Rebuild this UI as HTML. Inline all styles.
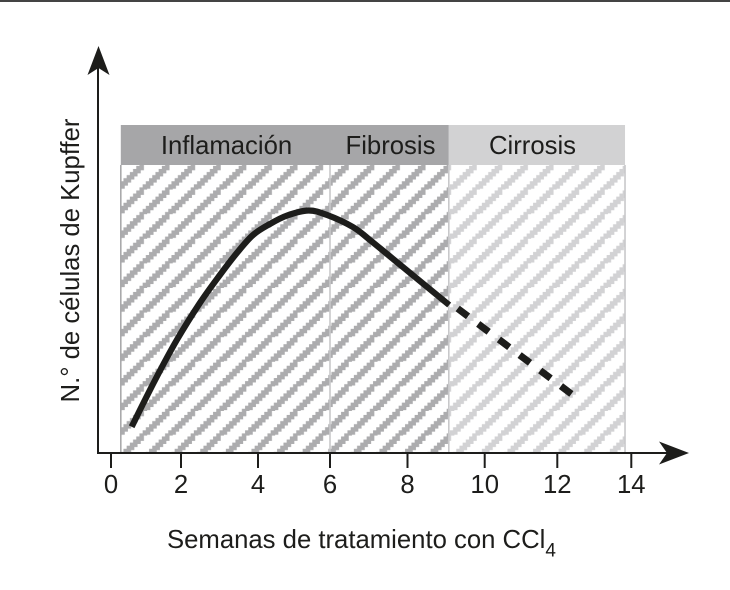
<!DOCTYPE html>
<html lang="es">
<head>
<meta charset="utf-8">
<title>Células de Kupffer</title>
<style>
html,body{margin:0;padding:0;background:#fff;width:730px;height:590px;overflow:hidden}
svg{display:block}
text{font-family:"Liberation Sans",sans-serif;fill:#1d1d1b}
</style>
</head>
<body>
<svg id="chart" xmlns="http://www.w3.org/2000/svg" width="730" height="590" viewBox="0 0 730 590">
  <defs>
    <pattern id="hatch-dark" patternUnits="userSpaceOnUse" width="25.6" height="24.6" patternTransform="translate(116.1 165)"></pattern>
    <pattern id="hatch-light" patternUnits="userSpaceOnUse" width="25.6" height="24.6" patternTransform="translate(116.1 165)"></pattern>
  </defs>
  <rect x="0" y="0" width="730" height="2" fill="#444"/>
  <g id="phases"></g>
  <g id="axes"></g>
  <g id="series"></g>
  <text transform="translate(79 260.5) rotate(-90)" text-anchor="middle" font-size="25.7">N.° de células de Kupffer</text>
  <text x="167" y="548" font-size="25.7">Semanas de tratamiento con CCl<tspan font-size="19" dy="8.5">4</tspan></text>
</svg>
<script>
// Chart data
const tickLabels = [0, 2, 4, 6, 8, 10, 12, 14];
const phaseNames = ["Inflamación", "Fibrosis", "Cirrosis"];
const phaseStart = [0.28, 6, 9.07];
const phaseEnd = [6, 9.07, 13.83];
const solidWeeks = [0.59, 1.26, 1.88, 2.49, 3.01, 3.45, 3.87, 4.33, 4.81, 5.4, 5.92, 6.59, 7.03, 7.88, 9.08];
const solidCount = [10.5, 29.2, 45.2, 60, 71.2, 80, 87.2, 91.6, 95, 97, 95.2, 90.4, 85.2, 74.4, 59.2];
const dashedWeeks = [9.3, 12.42];
const dashedCount = [57.8, 23.2];

// Axis functions (the printed axis is slightly uneven, so x is anchored at each tick)
const xRange = [111, 181, 258, 330, 407.5, 484.7, 557.3, 631.3];
function x(w) {
  let i = Math.floor(w / 2);
  i = Math.max(0, Math.min(i, xRange.length - 2));
  return xRange[i] + (w - tickLabels[i]) / 2 * (xRange[i + 1] - xRange[i]);
}
function y(v) { return 453 - v * 2.5; }

const NS = "http://www.w3.org/2000/svg";
function make(parent, tag, attrs, text) {
  const el = document.createElementNS(NS, tag);
  for (const k in attrs) el.setAttribute(k, attrs[k]);
  if (text !== undefined) el.textContent = text;
  parent.appendChild(el);
  return el;
}

// Stair-stepped hatch tiles
function fillHatch(id, colour) {
  const tile = document.getElementById(id);
  const W = 25.6, H = 24.6, n = 8, dx = W / n, dy = H / n;
  [-W, 0, W].forEach(function (off) {
    let d = "M" + (off - dx) + " " + (H + dy);
    for (let i = 0; i <= n; i++) {
      d += "H" + (off + i * dx) + "V" + (H - i * dy);
    }
    make(tile, "path", {d: d, fill: "none", stroke: colour, "stroke-width": 4.5, "stroke-linejoin": "miter"});
  });
}
fillHatch("hatch-dark", "#acacae");
fillHatch("hatch-light", "#d2d2d4");

const phases = document.getElementById("phases");
const axes = document.getElementById("axes");
const series = document.getElementById("series");

const plotTop = 125, headBottom = 165, base = 453;
phaseNames.forEach(function (name, i) {
  const light = i === 2;
  const x0 = x(phaseStart[i]), x1 = x(phaseEnd[i]);
  const hatch = make(phases, "rect", {x: x0, y: headBottom, width: x1 - x0, height: base - headBottom, fill: light ? "url(#hatch-light)" : "url(#hatch-dark)"});
  
  
  const head = make(phases, "rect", {x: x0, y: plotTop, width: x1 - x0, height: headBottom - plotTop, fill: light ? "#d2d2d3" : "#a6a6a8"});
  
  
  const label = make(phases, "text", {x: (i === 0 ? 226.5 : i === 1 ? 390.5 : 532.5), y: 154, "text-anchor": "middle", "font-size": 25.7}, name);
  
  
});
[phaseStart[0], phaseStart[1], phaseStart[2], phaseEnd[2]].forEach(function (w, i) {
  const line = make(phases, "line", {x1: x(w), x2: x(w), y1: headBottom, y2: base, stroke: i === 0 ? "#a9a9ab" : "#c8c8ca", "stroke-width": 1.6});
  
  
});

// Axes
const yLine = make(axes, "line", {x1: 98, x2: 98, y1: 454, y2: 66, stroke: "#1d1d1b", "stroke-width": 2});


const xLine = make(axes, "line", {x1: 97, x2: 672, y1: 453, y2: 453, stroke: "#1d1d1b", "stroke-width": 2});


const yHead = make(axes, "polygon", {points: "98.5,46 109.5,75 98.5,68 87.5,75", fill: "#1d1d1b"});


const xHead = make(axes, "polygon", {points: "689,453 659,441.5 667,453 659,464.5", fill: "#1d1d1b"});


tickLabels.forEach(function (t) {
  const tick = make(axes, "line", {x1: x(t), x2: x(t), y1: 453, y2: 468, stroke: "#1d1d1b", "stroke-width": 2});
  
  
  const lab = make(axes, "text", {x: x(t), y: 493, "text-anchor": "middle", "font-size": 25.7}, String(t));
  
  
});

// Curve (smoothed through the read points)
function smoothPath(a, b) {
  const p = a.map(function (w, i) { return [x(w), y(b[i])]; });
  let d = "M" + p[0][0] + " " + p[0][1];
  for (let i = 0; i < p.length - 1; i++) {
    const p0 = p[Math.max(0, i - 1)], p1 = p[i], p2 = p[i + 1], p3 = p[Math.min(p.length - 1, i + 2)];
    d += "C" + (p1[0] + (p2[0] - p0[0]) / 6) + " " + (p1[1] + (p2[1] - p0[1]) / 6) + " " +
         (p2[0] - (p3[0] - p1[0]) / 6) + " " + (p2[1] - (p3[1] - p1[1]) / 6) + " " + p2[0] + " " + p2[1];
  }
  return d;
}
const solid = make(series, "path", {d: smoothPath(solidWeeks, solidCount), fill: "none", stroke: "#1d1d1b", "stroke-width": 6.2});


const dashed = make(series, "path", {d: smoothPath(dashedWeeks, dashedCount), fill: "none", stroke: "#1d1d1b", "stroke-width": 7, "stroke-dasharray": "13 12.8"});


</script>
</body>
</html>
